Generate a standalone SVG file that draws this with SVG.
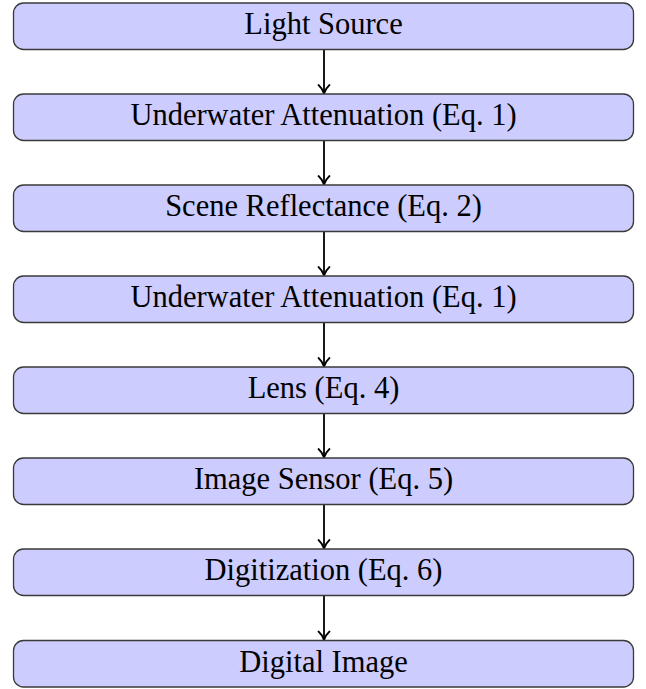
<svg xmlns="http://www.w3.org/2000/svg" width="646" height="689" viewBox="0 0 646 689">
<style>
.box{fill:#ccccff;stroke:#3a3a3a;stroke-width:1.3}
.lbl{font-family:"Liberation Serif","Times New Roman",serif;font-size:30.5px;fill:#000;text-anchor:middle}
.arr{stroke:#000;stroke-width:1.8;fill:none}
.head{fill:none;stroke:#000;stroke-width:1.8;stroke-linecap:round;stroke-linejoin:round}
</style>
<rect width="646" height="689" fill="#fff"/>
<g id="connectors">
<g id="c1"><line class="arr" x1="324" y1="50" x2="324" y2="93"/><path class="head" d="M318.5,85 Q322.5,88.5 324,93.5 Q325.5,88.5 329.5,85"/></g>
<g id="c2"><line class="arr" x1="324" y1="141" x2="324" y2="184"/><path class="head" d="M318.5,176 Q322.5,179.5 324,184.5 Q325.5,179.5 329.5,176"/></g>
<g id="c3"><line class="arr" x1="324" y1="232" x2="324" y2="275"/><path class="head" d="M318.5,267 Q322.5,270.5 324,275.5 Q325.5,270.5 329.5,267"/></g>
<g id="c4"><line class="arr" x1="324" y1="323" x2="324" y2="366"/><path class="head" d="M318.5,358 Q322.5,361.5 324,366.5 Q325.5,361.5 329.5,358"/></g>
<g id="c5"><line class="arr" x1="324" y1="414" x2="324" y2="457"/><path class="head" d="M318.5,449 Q322.5,452.5 324,457.5 Q325.5,452.5 329.5,449"/></g>
<g id="c6"><line class="arr" x1="324" y1="505" x2="324" y2="548"/><path class="head" d="M318.5,540 Q322.5,543.5 324,548.5 Q325.5,543.5 329.5,540"/></g>
<g id="c7"><line class="arr" x1="324" y1="596" x2="324" y2="639.5"/><path class="head" d="M318.5,631.5 Q322.5,635 324,640 Q325.5,635 329.5,631.5"/></g>
</g>
<g id="n1"><rect class="box" x="13.5" y="3" width="620" height="46.5" rx="10"/><text class="lbl" x="323.5" y="34">Light Source</text></g>
<g id="n2"><rect class="box" x="13.5" y="94" width="620" height="46.5" rx="10"/><text class="lbl" x="323.5" y="125">Underwater Attenuation (Eq. 1)</text></g>
<g id="n3"><rect class="box" x="13.5" y="185" width="620" height="46.5" rx="10"/><text class="lbl" x="323.5" y="216">Scene Reflectance (Eq. 2)</text></g>
<g id="n4"><rect class="box" x="13.5" y="276" width="620" height="46.5" rx="10"/><text class="lbl" x="323.5" y="307">Underwater Attenuation (Eq. 1)</text></g>
<g id="n5"><rect class="box" x="13.5" y="367" width="620" height="46.5" rx="10"/><text class="lbl" x="323.5" y="398">Lens (Eq. 4)</text></g>
<g id="n6"><rect class="box" x="13.5" y="458" width="620" height="46.5" rx="10"/><text class="lbl" x="323.5" y="489">Image Sensor (Eq. 5)</text></g>
<g id="n7"><rect class="box" x="13.5" y="549" width="620" height="46.5" rx="10"/><text class="lbl" x="323.5" y="580">Digitization (Eq. 6)</text></g>
<g id="n8"><rect class="box" x="13.5" y="640.5" width="620" height="46.5" rx="10"/><text class="lbl" x="323.5" y="672">Digital Image</text></g>
</svg>
